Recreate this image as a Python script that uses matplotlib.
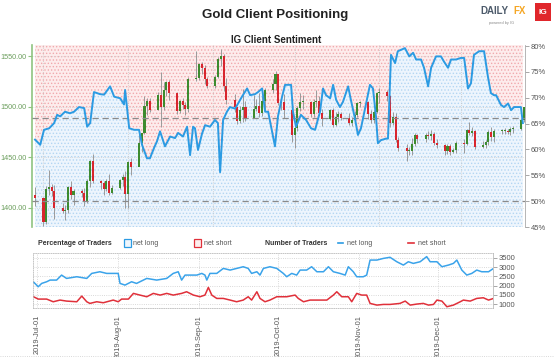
import numpy as np
import pandas as pd
import matplotlib
matplotlib.use("Agg")
import matplotlib.pyplot as plt
import matplotlib.dates as mdates
from matplotlib.patches import Rectangle
from matplotlib.lines import Line2D

plt.rcParams['font.family'] = ['Liberation Sans', 'DejaVu Sans']
plt.rcParams['hatch.linewidth'] = 0.6

# gold daily candles, business days 2019-06-28 .. 2019-12-24 (open = previous close)
first_open = 1412
closes = [1409,
          1386, 1418, 1420, 1416, 1400, 1397, 1398, 1420, 1412, 1416, 1414, 1406, 1426, 1446, 1426,
          1424, 1418, 1426, 1414, 1419, 1427, 1430, 1413,
          1445, 1440, 1464, 1474, 1501, 1506, 1497, 1511, 1500, 1516, 1524, 1513, 1496, 1506, 1502,
          1498, 1527, 1528, 1542, 1538, 1527, 1520,
          1529, 1547, 1550, 1520, 1507, 1500, 1486, 1497, 1500, 1488, 1498, 1501, 1494, 1506, 1516,
          1522, 1532, 1504, 1505, 1497, 1472,
          1479, 1499, 1505, 1505, 1493, 1505, 1506, 1494, 1488, 1497, 1482, 1490, 1493, 1489, 1484,
          1487, 1492, 1504, 1505, 1493, 1487, 1495, 1513,
          1514, 1510, 1484, 1490, 1467, 1459, 1456, 1456, 1463, 1472, 1468, 1472, 1471, 1473, 1464,
          1462, 1456, 1461, 1455, 1457, 1464,
          1463, 1477, 1474, 1476, 1460, 1462, 1465, 1475, 1470, 1476, 1476, 1476, 1475, 1478, 1478,
          1487, 1500]
highs = [1420,
         1410, 1421, 1437, 1423, 1422, 1404, 1403, 1421, 1426, 1418, 1418, 1419, 1428, 1447, 1453,
         1427, 1426, 1428, 1433, 1422, 1428, 1433, 1436,
         1446, 1449, 1475, 1474, 1510, 1509, 1509, 1514, 1534, 1524, 1525, 1526, 1514, 1507, 1509,
         1505, 1529, 1555, 1543, 1544, 1541, 1529,
         1531, 1549, 1557, 1552, 1528, 1512, 1500, 1501, 1517, 1506, 1511, 1508, 1513, 1510, 1518,
         1527, 1535, 1532, 1509, 1512, 1496,
         1483, 1501, 1513, 1511, 1506, 1508, 1516, 1510, 1498, 1498, 1499, 1495, 1496, 1495, 1494,
         1490, 1496, 1505, 1506, 1506, 1497, 1497, 1514,
         1518, 1516, 1511, 1495, 1494, 1470, 1463, 1460, 1469, 1474, 1473, 1474, 1476, 1477, 1475,
         1468, 1463, 1463, 1463, 1459, 1466,
         1468, 1478, 1485, 1480, 1477, 1466, 1467, 1477, 1480, 1478, 1478, 1479, 1478, 1480, 1481,
         1489, 1500]
lows = [1402,
        1382, 1384, 1412, 1411, 1389, 1395, 1388, 1395, 1408, 1403, 1410, 1402, 1404, 1420, 1424,
        1418, 1412, 1416, 1412, 1413, 1418, 1421, 1400,
        1400, 1432, 1441, 1455, 1473, 1492, 1495, 1497, 1480, 1497, 1510, 1507, 1493, 1494, 1498,
        1492, 1495, 1525, 1526, 1532, 1522, 1518,
        1518, 1528, 1540, 1515, 1503, 1495, 1483, 1484, 1485, 1486, 1494, 1496, 1490, 1491, 1497,
        1513, 1516, 1502, 1497, 1489, 1465,
        1459, 1476, 1496, 1498, 1490, 1490, 1500, 1492, 1481, 1487, 1480, 1481, 1485, 1487, 1482,
        1481, 1485, 1490, 1500, 1488, 1484, 1484, 1494,
        1504, 1506, 1480, 1482, 1465, 1456, 1446, 1452, 1452, 1461, 1464, 1465, 1468, 1467, 1462,
        1459, 1452, 1453, 1452, 1454, 1454,
        1454, 1462, 1472, 1471, 1458, 1459, 1459, 1462, 1466, 1465, 1473, 1473, 1473, 1472, 1474,
        1477, 1485]

# IG client sentiment: % of traders net long (days after 2019-07-01)
sent_days = [-3.1, -1.2, 0.2, 2.1, 3.9, 5.0, 6.1, 7.9, 9.7, 11.2, 13.0, 14.9, 16.0, 17.1, 18.5,
             20.7, 22.2, 24.4, 25.9, 28.1, 29.5, 29.9, 31.4, 33.2, 35.0, 36.1, 37.9, 39.0, 40.5,
             41.6, 42.7, 44.5, 46.4, 48.2, 49.3, 51.1, 52.6, 53.7, 54.8, 55.5, 56.6, 58.1, 59.2,
             61.0, 62.8, 63.9, 64.7, 65.8, 67.2, 68.3, 70.2, 72.7, 74.6, 75.7, 77.5, 78.6, 80.1,
             81.2, 82.3, 83.7, 84.8, 85.9, 87.4, 88.5, 89.6, 90.7, 91.4, 92.5, 94.3, 96.2, 98.0,
             99.5, 101.3, 102.4, 103.5, 105.0, 106.1, 107.2, 108.6, 109.7, 111.6, 112.6, 114.1,
             115.2, 116.3, 118.2, 119.6, 120.7, 121.8, 122.5, 123.6, 125.5, 126.2, 127.3, 128.8,
             129.8, 132.4, 134.0, 135.4, 136.5, 138.3, 139.4, 140.9, 142.0, 143.8, 145.6, 146.7,
             148.2, 149.3, 151.1, 152.9, 154.1, 155.5, 156.6, 157.7, 159.6, 161.4, 162.8, 163.9,
             165.0, 165.8, 167.6, 168.7, 170.2, 171.3, 172.4, 173.8, 174.9, 175.6]
sent_pct = [61.9, 60.9, 63.8, 64.1, 65.1, 66.7, 66.4, 67.3, 67.0, 67.3, 68.2, 68.0, 64.4, 65.1, 71.1,
            70.7, 70.6, 72.2, 70.2, 69.9, 68.7, 71.5, 64.1, 63.8, 63.8, 60.9, 58.3, 58.3, 60.3,
            61.6, 63.5, 60.6, 62.5, 62.2, 63.2, 62.5, 64.4, 58.9, 64.4, 64.1, 59.9, 63.1, 64.7,
            64.4, 65.7, 65.1, 55.6, 65.7, 67.3, 68.2, 67.9, 70.2, 71.8, 70.5, 70.7, 71.1, 71.8,
            67.3, 67.3, 63.5, 60.6, 66.4, 70.2, 72.5, 72.5, 72.5, 67.3, 64.4, 66.7, 65.7, 64.1,
            63.8, 67.3, 71.8, 70.5, 69.9, 72.5, 69.6, 68.2, 69.2, 72.2, 69.6, 66.0,
            62.8, 64.1, 68.9, 72.5, 71.8, 66.4, 61.2, 61.8, 62.1, 62.1, 78.3, 76.7,
            79.0, 79.6, 78.0, 78.7, 77.4, 77.4, 75.8, 72.2, 75.8, 78.0, 78.0, 77.0,
            75.8, 77.4, 77.4, 77.7, 77.7, 71.8, 72.8, 78.3, 79.0, 79.0, 74.1, 70.9,
            70.5, 70.5, 68.6, 68.2, 68.9, 67.6, 68.2, 68.2, 68.2, 65.1]

# number of traders (days after 2019-07-01)
long_days = [-1.4, 0.5, 1.8, 3.7, 5.0, 7.5, 9.4, 11.3, 15.2, 19.0, 20.9, 24.0, 26.6, 29.1, 31.0,
             31.7, 33.6, 36.1, 38.0, 41.9, 45.7, 49.5, 52.0, 53.9, 55.2, 56.5, 58.4, 61.0, 62.9,
             64.1, 64.8, 66.0, 68.6, 71.1, 73.7, 76.2, 78.7, 80.6, 81.9, 83.9, 85.1, 86.4, 88.9,
             91.5, 94.0, 95.3, 97.2, 99.1, 100.4, 102.9, 104.8, 106.8, 109.3, 111.2, 113.1, 115.6,
             117.6, 118.8, 120.7, 122.0, 124.5, 125.8, 127.1, 129.7, 132.2, 134.7, 137.3, 139.8,
             141.7, 143.6, 146.2, 148.7, 150.0, 152.6, 154.5, 157.0, 158.9, 160.2, 162.1, 164.0,
             165.9, 167.8, 169.7, 172.3, 174.2]
long_count = [2208, 1937, 2118, 2208, 2299, 2299, 2570, 2389, 2480, 2389, 2661, 2751, 2661, 2661,
              2661, 2118, 2027, 2208, 2118, 2389, 2299, 2389, 2661, 2751, 2299, 2570, 2570, 2570,
              2661, 2570, 2299, 2661, 2661, 2932, 2842, 2932, 3023, 2932, 2661, 2751, 2570, 2932,
              3023, 2932, 2661, 2480, 2661, 2570, 2842, 2842, 3023, 2751, 2751, 3023, 2751, 2661,
              2570, 3023, 2751, 2480, 2480, 2570, 3385, 3385, 3476, 3536, 3294, 3113, 3294, 3204,
              3294, 3572, 3294, 3294, 3023, 3113, 3204, 3385, 2842, 2570, 2661, 2842, 2751, 2751,
              2932]
short_days = [-1.4, 0.5, 3.7, 6.2, 8.8, 11.3, 15.2, 17.1, 19.0, 20.2, 22.8, 25.3, 29.1, 31.0, 32.3,
              34.9, 36.8, 39.3, 41.9, 44.4, 47.0, 49.5, 52.0, 55.2, 57.1, 59.7, 62.2, 64.1, 65.4,
              66.7, 68.6, 71.1, 73.7, 76.2, 78.7, 80.6, 81.9, 83.9, 85.1, 87.0, 88.9, 91.5, 95.3,
              98.5, 99.7, 101.7, 104.2, 106.8, 110.6, 113.1, 114.4, 116.3, 118.8, 120.1, 122.0,
              123.9, 125.8, 127.1, 129.7, 132.2, 134.7, 138.5, 140.5, 142.4, 144.9, 147.4, 149.4,
              151.3, 152.6, 154.5, 156.4, 158.9, 161.5, 162.7, 165.3, 167.8, 170.3, 172.3, 174.2]
short_count = [1400, 1268, 1268, 1123, 1214, 1159, 1123, 1431, 1123, 1033, 1123, 1069, 1214, 1123,
               1268, 1268, 1576, 1485, 1395, 1576, 1485, 1576, 1485, 1576, 1666, 1485, 1395, 1485,
               1901, 1485, 1304, 1304, 1214, 1123, 1214, 1395, 1214, 1666, 1304, 1123, 1214, 1395,
               1395, 1485, 1304, 1123, 1214, 1214, 1214, 1485, 1666, 1395, 1395, 1123, 1576, 1485,
               1485, 1033, 942, 978, 978, 1033, 1159, 942, 997, 1033, 942, 978, 1214, 1159, 852,
               942, 1123, 1214, 1159, 1304, 1340, 1214, 1304]

start = pd.Timestamp('2019-07-01')
def to_dates(days):
    return start + pd.to_timedelta(np.array(days), unit='D')

blue = '#2b9be3'
red = '#e0303a'

fig = plt.figure(figsize=(5.54, 3.57), dpi=100)

# ---- main chart: price candles + sentiment ----
ax = fig.add_axes([0.0578, 0.3641, 0.8899, 0.5098])
ax2 = ax.twinx()
ax.set_ylim(1380.7, 1561)
ax2.set_ylim(45, 80.2)
ax.set_xlim(start - pd.Timedelta(days=4.2), start + pd.Timedelta(days=176.4))

sx = to_dates(sent_days)
ax.fill_between(sx, sent_pct, 80.2, transform=ax2.transData, facecolor='#fdecec',
                edgecolor='#f0a9ad', hatch='.....', lw=0, zorder=0)
ax.fill_between(sx, 45, sent_pct, transform=ax2.transData, facecolor='#edf5fd',
                edgecolor='#b3d6f2', hatch='.....', lw=0, zorder=0)

cdates = pd.bdate_range('2019-06-28', '2019-12-24')
opens = [first_open] + closes[:-1]
o = np.array(opens, dtype=float)
c = np.array(closes, dtype=float)
ccol = np.where(c >= o, '#3d8b2f', '#d8262e')
ax.vlines(cdates, lows, highs, color='#9a9a9a', lw=0.7, zorder=2)
ax.bar(cdates, np.maximum(np.abs(c - o), 0.8), bottom=np.minimum(o, c), width=0.75,
       color=ccol, zorder=3)

for m in pd.date_range('2019-07-01', '2019-12-01', freq='MS'):
    ax.axvline(m, color='#c8c8c8', lw=0.6, ls=':', zorder=1)
for p in [1400, 1450, 1500, 1550]:
    ax.axhline(p, color='#d0d0d0', lw=0.6, ls=':', zorder=1)

ax2.axhline(66.1, color='#8a8a8a', lw=0.9, ls=(0, (5, 3)), zorder=1)
ax2.axhline(50, color='#8a8a8a', lw=0.9, ls=(0, (5, 3)), zorder=1)
ax2.plot(sx, sent_pct, color=blue, lw=1.4, zorder=4)

ax.set_yticks([1400, 1450, 1500, 1550])
ax.set_yticklabels(['1400.00', '1450.00', '1500.00', '1550.00'])
ax.tick_params(axis='y', labelsize=5.2, colors='#8fc480', labelcolor='#6b9e5c', length=3, width=0.8, pad=1)
ax.tick_params(axis='x', bottom=False, labelbottom=False)
ax2.set_yticks([45, 50, 55, 60, 65, 70, 75, 80])
ax2.set_yticklabels([f'{v}%' for v in [45, 50, 55, 60, 65, 70, 75, 80]])
ax2.tick_params(axis='y', labelsize=5.5, colors='#999999', labelcolor='#555555', length=3, width=0.6, pad=1)
for s in ['top', 'bottom']:
    ax.spines[s].set_visible(False)
    ax2.spines[s].set_visible(False)
ax.spines['left'].set_color('#8fc480')
ax.spines['left'].set_linewidth(1.2)
ax2.spines['left'].set_visible(False)
ax.spines['right'].set_visible(False)
ax2.spines['right'].set_color('#aaaaaa')
ax2.spines['right'].set_linewidth(0.6)

# ---- lower chart: number of traders ----
bx = fig.add_axes([0.0596, 0.1373, 0.8303, 0.1541])
bx.plot(to_dates(long_days), long_count, color='#3aa3ea', lw=1.1)
bx.plot(to_dates(short_days), short_count, color=red, lw=1.1)
bx.set_xlim(start - pd.Timedelta(days=1.5), start + pd.Timedelta(days=174))
bx.set_ylim(785, 3770)
bx.yaxis.tick_right()
bx.set_yticks([1000, 1500, 2000, 2500, 3000, 3500])
bx.tick_params(axis='y', labelsize=5.5, colors='#999999', labelcolor='#555555', length=3, width=0.6, pad=1)
bx.set_xticks(pd.date_range('2019-07-01', '2019-12-01', freq='MS'))
bx.xaxis.set_major_formatter(mdates.DateFormatter('%Y-%b-%d'))
bx.tick_params(axis='x', labelsize=5.3, labelcolor='#555555', rotation=90, length=0, pad=5)
bx.grid(True, color='#cccccc', lw=0.6, ls=':')
for s in bx.spines.values():
    s.set_color('#bbbbbb')
    s.set_linewidth(0.6)
    s.set_linestyle(':')
bx.spines['right'].set_linestyle('-')

# ---- titles, logo and legend row ----
fig.text(0.497, 0.958, 'Gold Client Positioning', ha='center', va='center',
         fontsize=9.5, fontweight='bold', color='#222222')
fig.text(0.498, 0.888, 'IG Client Sentiment', ha='center', va='center',
         fontsize=7, fontweight='bold', color='#222222')
fig.text(0.868, 0.968, 'DAILY', ha='left', va='center', fontsize=7, fontweight='bold',
         color='#4d5b6b')
fig.text(0.926, 0.968, 'FX', ha='left', va='center', fontsize=7, fontweight='bold',
         color='#f5a623')
fig.text(0.905, 0.935, 'powered by IG', ha='center', va='center', fontsize=2.8, color='#888888')
fig.patches.append(Rectangle((0.966, 0.94), 0.028, 0.052, transform=fig.transFigure,
                             facecolor='#e0262b', edgecolor='none'))
fig.text(0.980, 0.966, 'IG', ha='center', va='center', fontsize=6, fontweight='bold', color='white')

ly = 0.319
fig.text(0.069, ly, 'Percentage of Traders', ha='left', va='center', fontsize=5,
         fontweight='bold', color='#333333')
fig.patches.append(Rectangle((0.224, ly - 0.011), 0.012, 0.022, transform=fig.transFigure,
                             facecolor='#eef6fd', edgecolor=blue, lw=0.9))
fig.text(0.240, ly, 'net long', ha='left', va='center', fontsize=5, color='#555555')
fig.patches.append(Rectangle((0.350, ly - 0.011), 0.012, 0.022, transform=fig.transFigure,
                             facecolor='#fdeeee', edgecolor=red, lw=0.9))
fig.text(0.368, ly, 'net short', ha='left', va='center', fontsize=5, color='#555555')
fig.text(0.478, ly, 'Number of Traders', ha='left', va='center', fontsize=5,
         fontweight='bold', color='#333333')
fig.lines.append(Line2D([0.610, 0.620], [ly, ly], transform=fig.transFigure, color=blue, lw=1.2))
fig.text(0.626, ly, 'net long', ha='left', va='center', fontsize=5, color='#555555')
fig.lines.append(Line2D([0.737, 0.747], [ly, ly], transform=fig.transFigure, color=red, lw=1.2))
fig.text(0.754, ly, 'net short', ha='left', va='center', fontsize=5, color='#555555')

fig.lines.append(Line2D([0, 1], [0.003, 0.003], transform=fig.transFigure, color='#cccccc',
                        lw=0.6, ls=':'))

fig.savefig('out.png', dpi=100)
